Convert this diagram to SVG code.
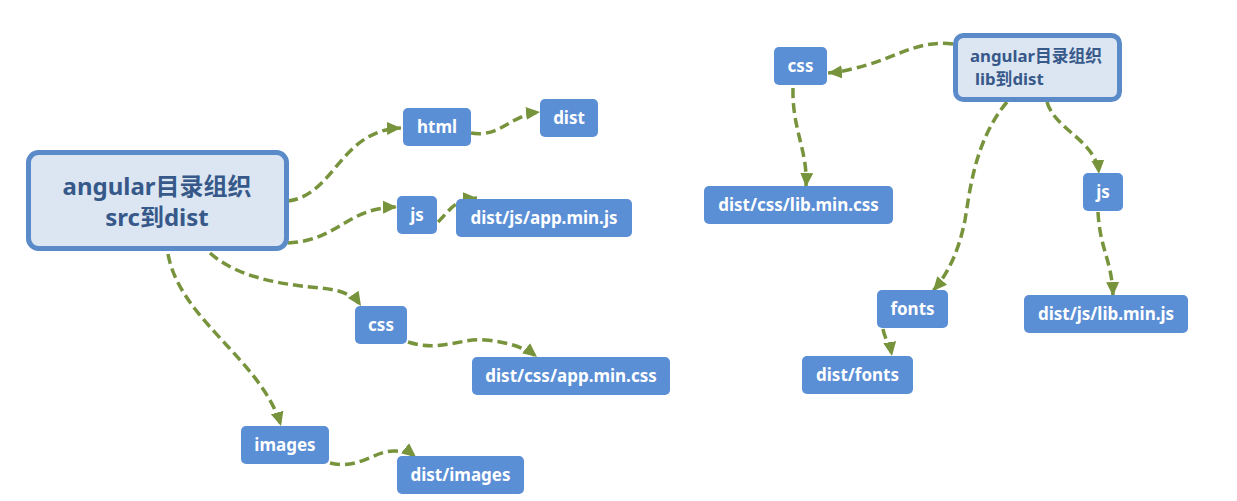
<svg xmlns="http://www.w3.org/2000/svg" width="1237" height="501" viewBox="0 0 1237 501">
<style>
.n{fill:#5a8ed5;}
.t{fill:#ffffff;font-family:"Noto Sans","Noto Sans CJK SC",sans-serif;font-weight:bold;font-size:17px;text-anchor:middle;}
.m{fill:#dce6f2;stroke:#5a8ac8;stroke-width:5;}
.mt{fill:#37598a;font-family:"Noto Sans","Noto Sans CJK SC",sans-serif;font-weight:bold;}
.c{fill:none;stroke:#77933c;stroke-width:3.5;stroke-dasharray:10 5;marker-end:url(#a);}
</style>
<defs>
<marker id="a" markerUnits="userSpaceOnUse" markerWidth="15" markerHeight="15" viewBox="0 0 15 15" refX="14" refY="7.5" orient="auto">
<path d="M0,1 L14,7.5 L0,14 Z" fill="#77933c"/>
</marker>
</defs>
<g id="connectors">
<path class="c" d="M288,201 C335,195 340,130 401,128"/>
<path class="c" d="M288,243 C340,240 345,208 397,207"/>
<path class="c" d="M471,133 C500,138 510,115 540,112"/>
<path class="c" d="M438,222 C450,210 455,199 477,198"/>
<path class="c" d="M210,253 C240,280 290,285 320,288 C345,290 355,297 361,306"/>
<path class="c" d="M168,254 C180,320 262,360 281,426"/>
<path class="c" d="M408,342 C440,352 460,338 485,340 C510,342 527,349 537,357"/>
<path class="c" d="M330,463 C360,470 375,450 395,451 C405,452 411,453 416,457"/>
<path class="c" d="M953,44 C920,40 900,55 870,64 C850,70 840,72 828,73"/>
<path class="c" d="M793,88 C792,130 808,150 806,187"/>
<path class="c" d="M1007,102 C975,140 970,190 965,220 C958,255 946,276 933,291"/>
<path class="c" d="M1047,102 C1055,130 1096,140 1099,174"/>
<path class="c" d="M1098,212 C1100,250 1112,260 1113,296"/>
<path class="c" d="M883,329 C885,340 890,344 892,356"/>
</g>
<g id="main-src">
<rect class="m" x="28.5" y="152.5" width="258" height="96" rx="10"/>
<text class="mt" x="157" y="195" font-size="24" text-anchor="middle">angular目录组织</text>
<text class="mt" x="157" y="226" font-size="24" text-anchor="middle">src到dist</text>
</g>
<g id="html"><rect class="n" x="403" y="108" width="68" height="38" rx="5"/><text class="t" x="437" y="133">html</text></g>
<g id="dist"><rect class="n" x="540" y="99" width="58" height="38" rx="5"/><text class="t" x="569" y="124">dist</text></g>
<g id="js-src"><rect class="n" x="397" y="196" width="40" height="38" rx="5"/><text class="t" x="417" y="221">js</text></g>
<g id="app-js"><rect class="n" x="456" y="199" width="176" height="38" rx="5"/><text class="t" x="544" y="224">dist/js/app.min.js</text></g>
<g id="css-src"><rect class="n" x="355" y="306" width="52" height="38" rx="5"/><text class="t" x="381" y="331">css</text></g>
<g id="app-css"><rect class="n" x="472" y="357" width="198" height="38" rx="5"/><text class="t" x="571" y="382">dist/css/app.min.css</text></g>
<g id="images"><rect class="n" x="241" y="426" width="88" height="38" rx="5"/><text class="t" x="285" y="451">images</text></g>
<g id="dist-images"><rect class="n" x="397" y="456" width="127" height="38" rx="5"/><text class="t" x="460.5" y="481">dist/images</text></g>
<g id="main-lib">
<rect class="m" x="955.5" y="35.5" width="164" height="64" rx="8"/>
<text class="mt" x="970" y="62" font-size="16.8">angular目录组织</text>
<text class="mt" x="975" y="85" font-size="16.8">lib到dist</text>
</g>
<g id="css-lib"><rect class="n" x="774" y="47" width="53" height="38" rx="5"/><text class="t" x="800.5" y="72">css</text></g>
<g id="lib-css"><rect class="n" x="704" y="186" width="189" height="38" rx="5"/><text class="t" x="798.5" y="211">dist/css/lib.min.css</text></g>
<g id="js-lib"><rect class="n" x="1083" y="173" width="40" height="38" rx="5"/><text class="t" x="1103" y="198">js</text></g>
<g id="fonts"><rect class="n" x="877" y="290" width="71" height="38" rx="5"/><text class="t" x="912.5" y="315">fonts</text></g>
<g id="dist-fonts"><rect class="n" x="802" y="356" width="111" height="38" rx="5"/><text class="t" x="857.5" y="381">dist/fonts</text></g>
<g id="lib-js"><rect class="n" x="1024" y="295" width="164" height="38" rx="5"/><text class="t" x="1106" y="320">dist/js/lib.min.js</text></g>
</svg>
